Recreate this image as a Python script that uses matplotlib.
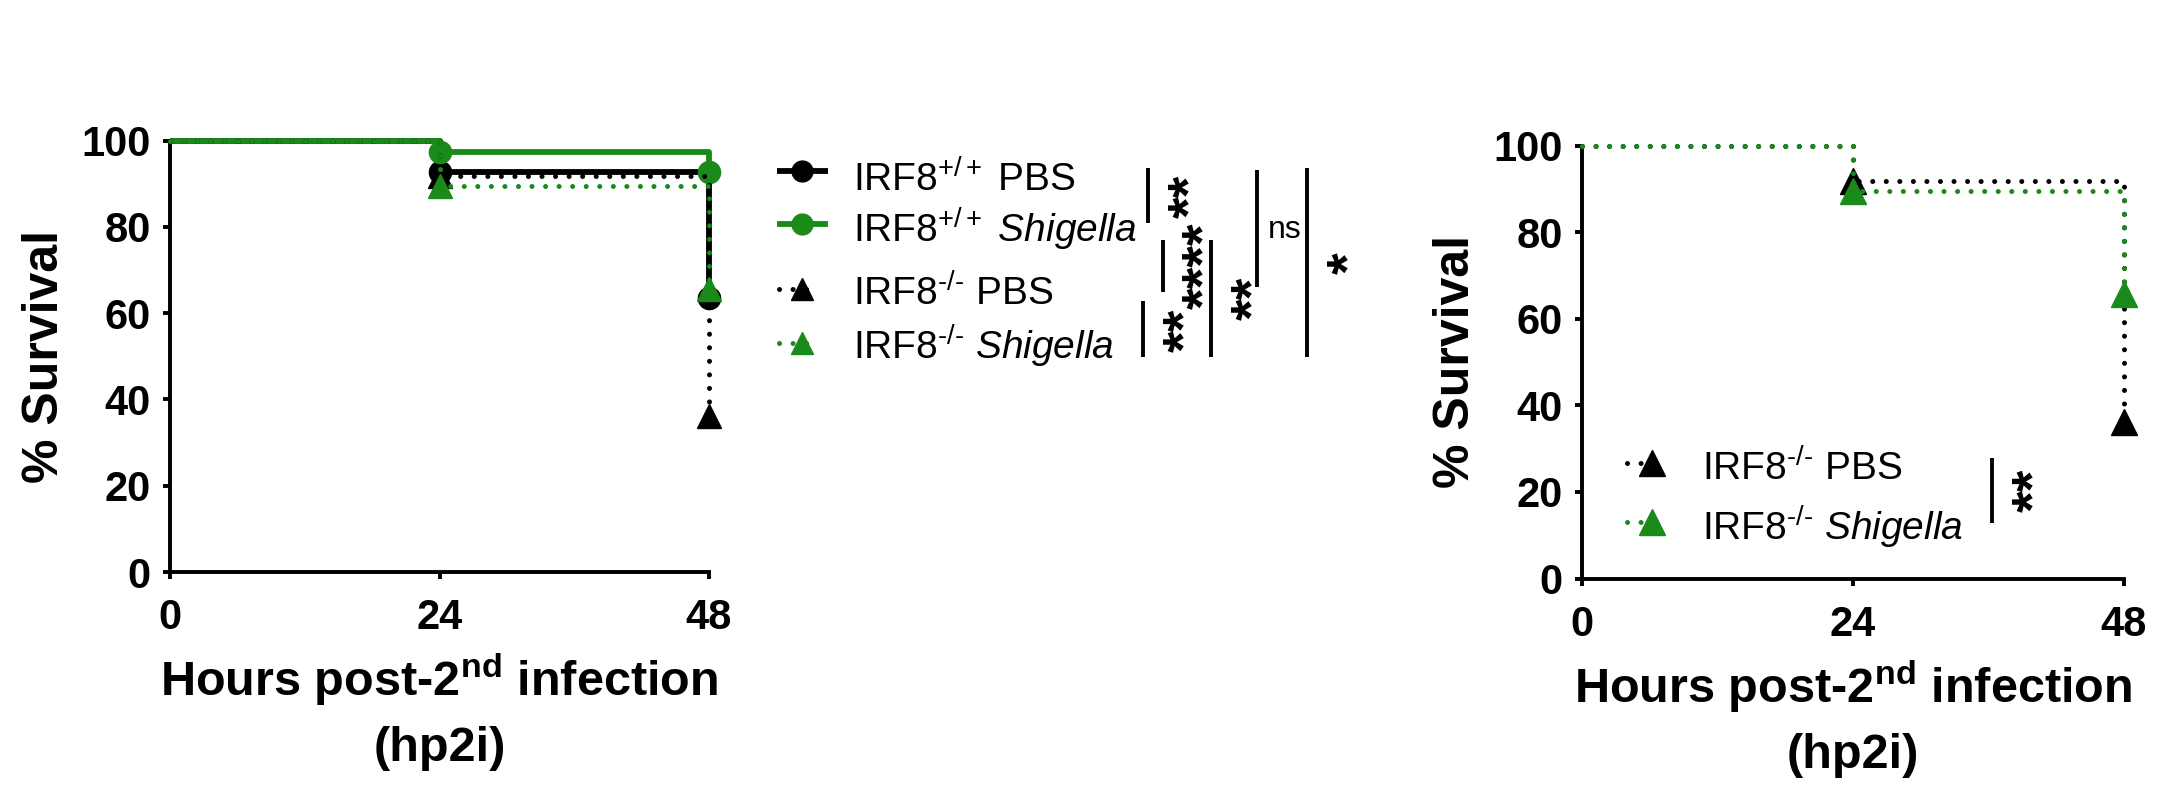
import matplotlib
matplotlib.use("Agg")
import matplotlib.pyplot as plt
from matplotlib.lines import Line2D

plt.rcParams["font.family"] = ["Liberation Sans", "DejaVu Sans"]
plt.rcParams["mathtext.fontset"] = "custom"
plt.rcParams["mathtext.rm"] = "Liberation Sans"
plt.rcParams["mathtext.it"] = "Liberation Sans:italic"
plt.rcParams["mathtext.bf"] = "Liberation Sans:bold"

# % survival at 0, 24 and 48 hp2i
hours = [0, 24, 48]
wt_pbs = [100, 92.8, 63.5]
wt_shigella = [100, 97.4, 92.8]
ko_pbs = [100, 91.7, 36.2]
ko_shigella = [100, 89.6, 65.6]

group_names = [r"$\mathrm{IRF8}^{+/+}$ PBS",
               r"$\mathrm{IRF8}^{+/+}$ $\mathit{Shigella}$",
               r"$\mathrm{IRF8}^{\text{-/-}}$ PBS",
               r"$\mathrm{IRF8}^{\text{-/-}}$ $\mathit{Shigella}$"]

# log-rank results written next to the legends
left_stats = ["**", "****", "**", "**", "ns", "*"]
right_stats = ["**"]

x_ticks = [0, 24, 48]
y_ticks = [0, 20, 40, 60, 80, 100]
x_label = r"Hours post-$\mathbf{2}^{\mathbf{nd}}$ infection" + "\n(hp2i)"
y_label = "% Survival"

GREEN = "#1a8a1a"
DOTS = (0, (0.01, 2.7))
SOLID_LW = 4.2
DOT_LW = 3.6

W, H = 2166, 798
fig = plt.figure(figsize=(W / 100, H / 100), dpi=100)


def fx(x):
    return x / W


def fy(y):
    return 1 - y / H


def make_axes(x0, x1, y_top, y_bot):
    ax = fig.add_axes([fx(x0), fy(y_bot), (x1 - x0) / W, (y_bot - y_top) / H])
    ax.set_xlim(0, 48)
    ax.set_ylim(0, 100)
    ax.set_xticks(x_ticks)
    ax.set_yticks(y_ticks)
    for s in ["top", "right"]:
        ax.spines[s].set_visible(False)
    for s in ["left", "bottom"]:
        ax.spines[s].set_linewidth(2.8)
    ax.tick_params(direction="out", length=5, width=2.8, labelsize=30)
    ax.tick_params(axis="y", pad=9)
    ax.tick_params(axis="x", pad=14)
    for lab in ax.get_xticklabels() + ax.get_yticklabels():
        lab.set_fontweight("bold")
    ax.set_ylabel(y_label, fontsize=36, fontweight="bold")
    ax.set_xlabel(x_label, fontsize=35, fontweight="bold", linespacing=1.5)
    ax.yaxis.set_label_coords(-0.19, 0.5)
    ax.xaxis.set_label_coords(0.5, -0.185)
    return ax


def curve(ax, vals, color, ls, lw, marker, ms, z):
    ax.step(hours, vals, where="post", color=color, ls=ls, lw=lw,
            dash_capstyle="round", solid_capstyle="butt", clip_on=False, zorder=z)
    ax.plot(hours[1:], vals[1:], ls="none", marker=marker, ms=ms, color=color,
            clip_on=False, zorder=z + 0.05)


def legend_row(xl0, xl1, xm, xt, ym, yb, color, ls, lw, marker, ms, label):
    fig.add_artist(Line2D([fx(xl0), fx(xl1)], [fy(ym), fy(ym)], transform=fig.transFigure,
                          color=color, ls=ls, lw=lw, dash_capstyle="round",
                          solid_capstyle="butt"))
    fig.add_artist(Line2D([fx(xm)], [fy(ym)], transform=fig.transFigure, ls="none",
                          marker=marker, ms=ms, color=color))
    fig.text(fx(xt), fy(yb), label, fontsize=28, ha="left", va="baseline")


def sig(x, y0, y1, label, tx, ty):
    fig.add_artist(Line2D([fx(x), fx(x)], [fy(y0), fy(y1)], transform=fig.transFigure,
                          color="black", lw=2.8, solid_capstyle="butt"))
    if label == "ns":
        fig.text(fx(tx), fy(ty), label, fontsize=23, ha="center", va="center")
    else:
        # stars are written sideways along the bar
        fig.text(fx(tx + 32), fy(ty), label, fontsize=40, fontweight="bold",
                 rotation=90, rotation_mode="anchor", ha="center", va="baseline")


# ---------------- left panel: all four groups
ax1 = make_axes(170, 709, 140.7, 572)
curve(ax1, wt_pbs, "black", "-", SOLID_LW, "o", 16, 3.0)
curve(ax1, wt_shigella, GREEN, "-", SOLID_LW, "o", 16, 3.1)
curve(ax1, ko_pbs, "black", DOTS, DOT_LW, "^", 17, 3.2)
curve(ax1, ko_shigella, GREEN, DOTS, DOT_LW, "^", 17, 3.3)

legend_row(777, 828, 802, 853, 171, 192, "black", "-", SOLID_LW, "o", 15, group_names[0])
legend_row(777, 828, 802, 853, 224, 243, GREEN, "-", SOLID_LW, "o", 15, group_names[1])
legend_row(779, 818, 802, 853, 289, 306, "black", DOTS, DOT_LW, "^", 16, group_names[2])
legend_row(779, 818, 802, 853, 343, 360, GREEN, DOTS, DOT_LW, "^", 16, group_names[3])

sig(1148, 168, 223, left_stats[0], 1174, 196)
sig(1163, 240, 292, left_stats[1], 1188, 266)
sig(1143, 301, 357, left_stats[2], 1169, 330)
sig(1211, 240, 357, left_stats[3], 1237, 298)
sig(1257, 170, 287, left_stats[4], 1285, 230)
sig(1307, 168, 357, left_stats[5], 1333, 263)

# ---------------- right panel: IRF8-/- only
ax2 = make_axes(1582, 2124, 145.5, 578.5)
curve(ax2, ko_pbs, "black", DOTS, DOT_LW, "^", 19, 3.2)
curve(ax2, ko_shigella, GREEN, DOTS, DOT_LW, "^", 19, 3.3)

legend_row(1627, 1667, 1652, 1702, 463, 481, "black", DOTS, DOT_LW, "^", 19, group_names[2])
legend_row(1627, 1667, 1652, 1702, 522, 541, GREEN, DOTS, DOT_LW, "^", 19, group_names[3])

sig(1992, 458, 523, right_stats[0], 2018, 490)

fig.savefig("out.png", dpi=100)
